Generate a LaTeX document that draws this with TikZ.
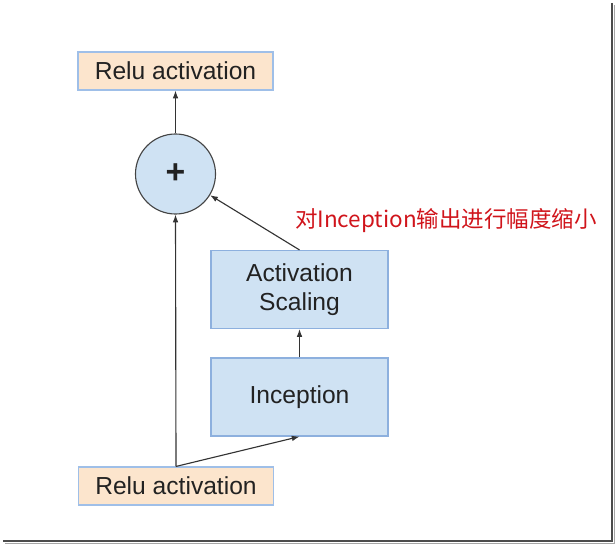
\documentclass[tikz,border=0pt]{standalone}
\usepackage{fontspec}
\setsansfont{Liberation Sans}
\newfontfamily\cjk{Noto Sans CJK SC}
\usetikzlibrary{arrows.meta,calc}
\definecolor{relufill}{HTML}{FCE5CD}
\definecolor{reluedge}{HTML}{9FBFE8}
\definecolor{blockfill}{HTML}{CFE2F3}
\definecolor{blockedge}{HTML}{8DB0DE}
\definecolor{sumedge}{HTML}{444444}
\definecolor{flowcolor}{HTML}{333333}
\definecolor{notecolor}{HTML}{D0141B}
\definecolor{textcolor}{HTML}{222222}

\begin{document}
\begin{tikzpicture}[
  x=0.025cm, y=-0.025cm,
  >={Latex[length=5.5pt,width=4pt]},
  every node/.style={font=\sffamily\fontsize{17.5}{20.5}\selectfont, text=textcolor},
  relu/.style={draw=reluedge, fill=relufill, line width=0.8pt,
    minimum width=4.875cm, minimum height=0.95cm, inner sep=0pt},
  block/.style={draw=blockedge, fill=blockfill, line width=0.8pt,
    minimum width=4.425cm, minimum height=1.95cm, inner sep=0pt, align=center},
  sum/.style={circle, draw=sumedge, fill=blockfill, line width=0.8pt,
    minimum size=2cm, inner sep=0pt},
  flow/.style={draw=flowcolor, line width=0.8pt, ->}
]
  \useasboundingbox (0,0) rectangle (615,544);

  % screenshot frame shadow
  \draw[black!70, line width=1.6pt] (612,3) -- (612,541) -- (3,541);
  \draw[black!35, line width=1pt] (614.3,5) -- (614.3,543.3) -- (5,543.3);

  \node[relu] (reluout) at (175.5,71) {Relu activation};
  \node[sum] (add) at (175.5,174) {\fontsize{24}{24}\selectfont\bfseries +};
  \node[block] (scale) at (299.5,289.5) {Activation\\Scaling};
  \node[block] (incep) at (299.5,397) {Inception};
  \node[relu] (reluin) at (176,486) {Relu activation};

  \draw[flow] (add.north) -- (reluout.south);
  \draw[flow] (reluin.north) -- (add.south);
  \draw[flow] (reluin.north) -- (incep.south);
  \draw[flow] (incep.north) -- (scale.south);
  \draw[flow] (scale.north) -- (add);

  \node[text=notecolor, font=\cjk\fontsize{16}{18}\selectfont] (note) at (446,221)
    {对Inception输出进行幅度缩小};
\end{tikzpicture}
\end{document}
